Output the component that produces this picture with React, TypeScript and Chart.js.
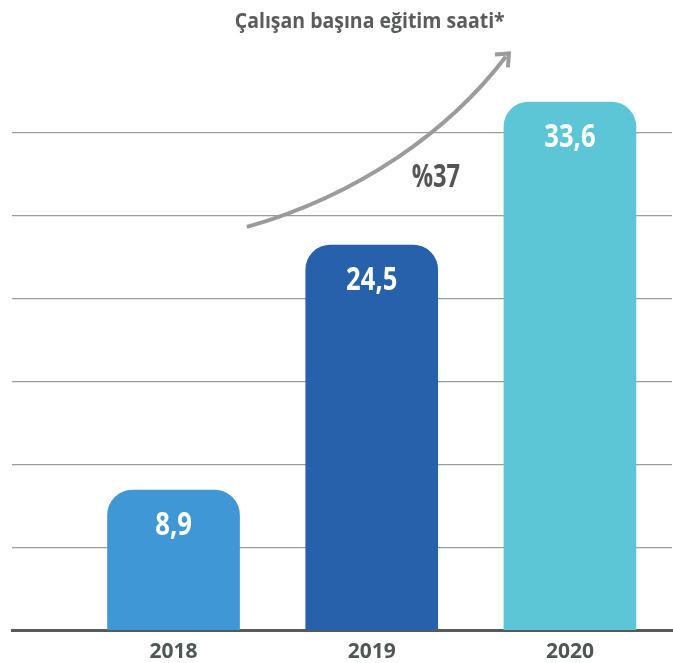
import React, { useEffect, useRef } from "react";
import { Chart, registerables } from "chart.js";

Chart.register(...registerables);

const categories = ["2018", "2019", "2020"];
const values = [8.9, 24.5, 33.6];
const valueLabels = ["8,9", "24,5", "33,6"];
const barColors = ["#3f98d5", "#2761ab", "#5cc6d7"];
const titleText = "Çalışan başına eğitim saati*";
const growthLabel = "%37";

const FONT = "'Open Sans', 'Noto Sans', sans-serif";

function drawCondensed(ctx: any, text: string, x: number, y: number, sx: number) {
  ctx.save();
  ctx.translate(x, y);
  ctx.scale(sx, 1);
  ctx.textAlign = "center";
  ctx.textBaseline = "middle";
  ctx.fillText(text, 0, 0);
  ctx.restore();
}

const decorPlugin = {
  id: "decor",
  afterDatasetsDraw(chart: any) {
    const ctx = chart.ctx;
    const meta = chart.getDatasetMeta(0);
    ctx.save();
    ctx.fillStyle = "#ffffff";
    ctx.font = `700 32px ${FONT}`;
    meta.data.forEach((bar: any, i: number) => {
      drawCondensed(ctx, valueLabels[i], bar.x, bar.y + 36, 0.8);
    });
    ctx.restore();
  },
  afterDraw(chart: any) {
    const ctx = chart.ctx;
    const xs = chart.scales.x;
    const ys = chart.scales.y;
    ctx.save();
    // title
    ctx.fillStyle = "#5a5b5d";
    ctx.font = `700 22px ${FONT}`;
    drawCondensed(ctx, titleText, xs.getPixelForValue(0.99), 22, 0.885);

    // growth arrow
    const p0 = { x: xs.getPixelForValue(0.37), y: ys.getPixelForValue(25.65) };
    const p1 = { x: xs.getPixelForValue(0.94), y: ys.getPixelForValue(27.7) };
    const p2 = { x: xs.getPixelForValue(1.394), y: ys.getPixelForValue(31.8) };
    const p3 = { x: xs.getPixelForValue(1.677), y: ys.getPixelForValue(36.5) };
    ctx.strokeStyle = "#9b9b9b";
    ctx.lineWidth = 4;
    ctx.lineCap = "butt";
    ctx.beginPath();
    ctx.moveTo(p0.x, p0.y);
    ctx.bezierCurveTo(p1.x, p1.y, p2.x, p2.y, p3.x, p3.y);
    ctx.stroke();
    // arrow head
    const tip = { x: p3.x + 3, y: p3.y - 3 };
    ctx.lineJoin = "miter";
    ctx.beginPath();
    ctx.moveTo(tip.x - 14, tip.y + 1);
    ctx.lineTo(tip.x, tip.y);
    ctx.lineTo(tip.x - 1, tip.y + 14);
    ctx.stroke();

    // growth label
    ctx.fillStyle = "#555555";
    ctx.font = `700 32px ${FONT}`;
    drawCondensed(ctx, growthLabel, xs.getPixelForValue(1.324), ys.getPixelForValue(28.8), 0.74);
    ctx.restore();
  },
};

export default function App() {
  const ref = useRef<HTMLCanvasElement | null>(null);

  useEffect(() => {
    if (!ref.current) return;
    const chart = new Chart(ref.current, {
      type: "bar",
      data: {
        datasets: [
          {
            data: values.map((v, i) => ({ x: i, y: v })),
            backgroundColor: barColors,
            borderWidth: 0,
            borderRadius: { topLeft: 25, topRight: 25, bottomLeft: 0, bottomRight: 0 },
            borderSkipped: "bottom",
            barThickness: 132,
          },
        ],
      },
      plugins: [decorPlugin],
      options: {
        animation: false,
        responsive: true,
        maintainAspectRatio: false,
        layout: { padding: { left: 12, right: 1, top: 58, bottom: 0 } },
        plugins: {
          legend: { display: false },
          title: { display: false },
          tooltip: { enabled: false },
        },
        scales: {
          x: {
            type: "linear",
            min: -0.815,
            max: 2.515,
            offset: false,
            z: 1,
            grid: { display: false, drawTicks: false },
            border: { display: true, color: "#555b5b", width: 3 },
            afterFit: (scale: any) => {
              scale.height = 33;
            },
            ticks: {
              stepSize: 1,
              includeBounds: false,
              autoSkip: false,
              maxRotation: 0,
              padding: 9,
              color: "#4f5656",
              font: { family: FONT, size: 21, weight: "700" },
              callback: (v: any) =>
                Number.isInteger(v) && categories[v] !== undefined ? categories[v] : "",
            },
          },
          y: {
            display: false,
            min: 0,
            max: 36.4,
          },
          y2: {
            position: "left",
            display: true,
            min: 0,
            max: 6.9,
            ticks: { display: false, stepSize: 1 },
            border: { display: false },
            grid: {
              drawTicks: false,
              lineWidth: 1.2,
              color: (c: any) =>
                c.tick && Number.isInteger(c.tick.value) && c.tick.value > 0
                  ? "#9c9c9c"
                  : "rgba(0,0,0,0)",
            },
          },
        },
      },
    } as any);
    return () => chart.destroy();
  }, []);

  return (
    <div style={{ position: "absolute", left: 0, top: 0, width: 673, height: 663, background: "#fff" }}>
      <canvas ref={ref} />
    </div>
  );
}
